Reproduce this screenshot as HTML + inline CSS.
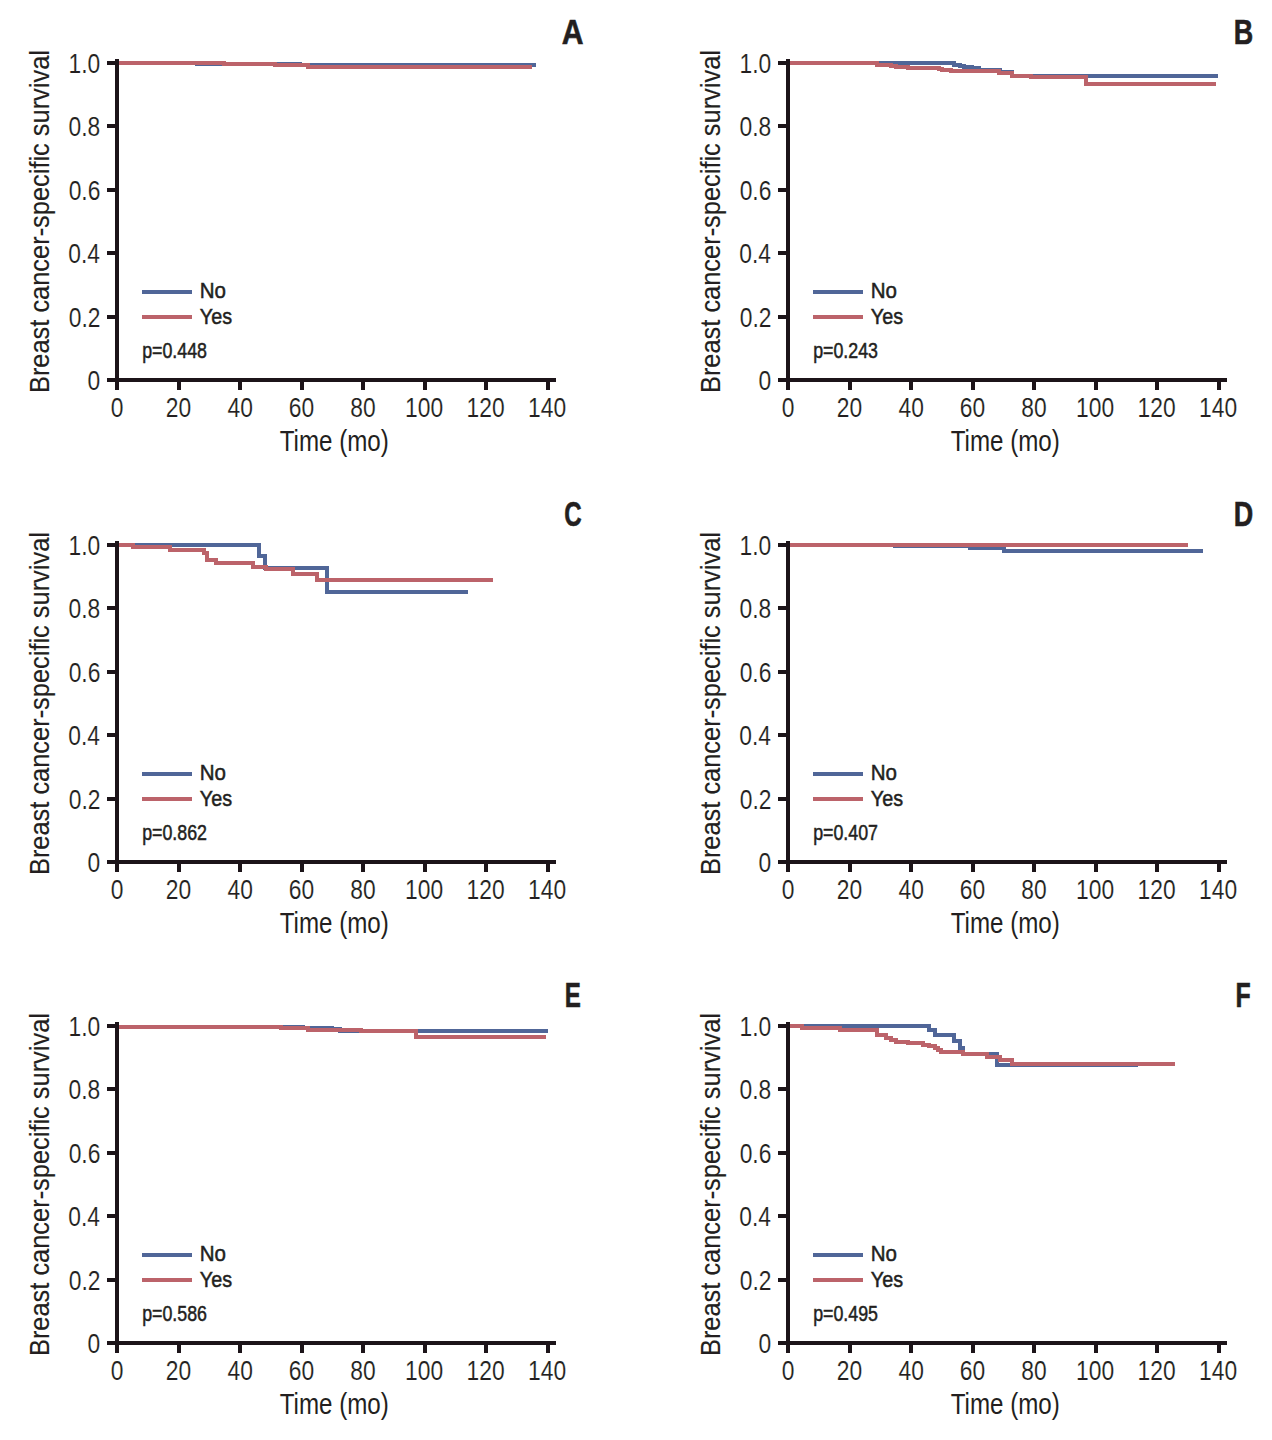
<!DOCTYPE html>
<html><head><meta charset="utf-8"><style>
html,body{margin:0;padding:0;background:#fff;}
body{width:1272px;height:1440px;overflow:hidden;}
svg{display:block;font-family:"Liberation Sans", sans-serif;}
</style></head><body>
<svg width="1272" height="1440" viewBox="0 0 1272 1440" shape-rendering="crispEdges">
<rect width="1272" height="1440" fill="#fff"/>
<g transform="translate(0,0)">
<path d="M117.00,63.00H197.00V64.00H300.00V65.30H535.80" fill="none" stroke="#506698" stroke-width="4" stroke-linejoin="miter"/>
<path d="M117.00,63.00H223.70V64.00H275.30V65.00H307.80V67.40H532.00" fill="none" stroke="#bc636a" stroke-width="4" stroke-linejoin="miter"/>
<rect x="115" y="59" width="4" height="331" fill="#1c1419"/>
<rect x="107" y="378" width="449" height="4" fill="#1c1419"/>
<rect x="107" y="61.00" width="8" height="4" fill="#1c1419"/>
<rect x="107" y="124.40" width="8" height="4" fill="#1c1419"/>
<rect x="107" y="187.80" width="8" height="4" fill="#1c1419"/>
<rect x="107" y="251.20" width="8" height="4" fill="#1c1419"/>
<rect x="107" y="314.60" width="8" height="4" fill="#1c1419"/>
<rect x="107" y="378.00" width="8" height="4" fill="#1c1419"/>
<rect x="115.00" y="382" width="4" height="8" fill="#1c1419"/>
<rect x="176.50" y="382" width="4" height="8" fill="#1c1419"/>
<rect x="238.00" y="382" width="4" height="8" fill="#1c1419"/>
<rect x="299.50" y="382" width="4" height="8" fill="#1c1419"/>
<rect x="361.00" y="382" width="4" height="8" fill="#1c1419"/>
<rect x="422.50" y="382" width="4" height="8" fill="#1c1419"/>
<rect x="484.00" y="382" width="4" height="8" fill="#1c1419"/>
<rect x="545.50" y="382" width="4" height="8" fill="#1c1419"/>
<text transform="translate(68.52,73.00) scale(0.8,1)" font-size="28.5" font-weight="normal" fill="#231f20" stroke="#fff" stroke-width="0.15">1.0</text>
<text transform="translate(68.52,136.40) scale(0.8,1)" font-size="28.5" font-weight="normal" fill="#231f20" stroke="#fff" stroke-width="0.15">0.8</text>
<text transform="translate(68.63,199.80) scale(0.8,1)" font-size="28.5" font-weight="normal" fill="#231f20" stroke="#fff" stroke-width="0.15">0.6</text>
<text transform="translate(68.29,263.20) scale(0.8,1)" font-size="28.5" font-weight="normal" fill="#231f20" stroke="#fff" stroke-width="0.15">0.4</text>
<text transform="translate(68.75,326.60) scale(0.8,1)" font-size="28.5" font-weight="normal" fill="#231f20" stroke="#fff" stroke-width="0.15">0.2</text>
<text transform="translate(87.56,390.00) scale(0.8,1)" font-size="28.5" font-weight="normal" fill="#231f20" stroke="#fff" stroke-width="0.15">0</text>
<text transform="translate(110.67,417.00) scale(0.8,1)" font-size="28.5" font-weight="normal" fill="#231f20" stroke="#fff" stroke-width="0.15">0</text>
<text transform="translate(165.73,417.00) scale(0.8,1)" font-size="28.5" font-weight="normal" fill="#231f20" stroke="#fff" stroke-width="0.15">20</text>
<text transform="translate(227.52,417.00) scale(0.8,1)" font-size="28.5" font-weight="normal" fill="#231f20" stroke="#fff" stroke-width="0.15">40</text>
<text transform="translate(288.73,417.00) scale(0.8,1)" font-size="28.5" font-weight="normal" fill="#231f20" stroke="#fff" stroke-width="0.15">60</text>
<text transform="translate(350.29,417.00) scale(0.8,1)" font-size="28.5" font-weight="normal" fill="#231f20" stroke="#fff" stroke-width="0.15">80</text>
<text transform="translate(405.12,417.00) scale(0.8,1)" font-size="28.5" font-weight="normal" fill="#231f20" stroke="#fff" stroke-width="0.15">100</text>
<text transform="translate(466.62,417.00) scale(0.8,1)" font-size="28.5" font-weight="normal" fill="#231f20" stroke="#fff" stroke-width="0.15">120</text>
<text transform="translate(528.12,417.00) scale(0.8,1)" font-size="28.5" font-weight="normal" fill="#231f20" stroke="#fff" stroke-width="0.15">140</text>
<text transform="translate(279.72,451.00) scale(0.833,1)" font-size="29" font-weight="normal" fill="#231f20" >Time (mo)</text>
<text transform="translate(48.80,393.03) rotate(-90) scale(0.9076,1)" font-size="28" fill="#231f20" stroke="#231f20" stroke-width="0.15">Breast cancer-specific survival</text>
<rect x="142" y="290" width="50" height="4" fill="#506698"/>
<rect x="142" y="315" width="50" height="4" fill="#bc636a"/>
<text transform="translate(199.76,297.80) scale(0.925,1)" font-size="22.2" font-weight="normal" fill="#231f20" stroke="#231f20" stroke-width="0.5">No</text>
<text transform="translate(199.81,323.70) scale(0.89,1)" font-size="22.2" font-weight="normal" fill="#231f20" stroke="#231f20" stroke-width="0.5">Yes</text>
<text transform="translate(142.14,358.00) scale(0.81,1)" font-size="22" font-weight="normal" fill="#231f20" stroke="#231f20" stroke-width="0.5">p=0.448</text>
<text transform="translate(561.75,43.80) scale(0.85,1)" font-size="35.5" font-weight="bold" fill="#231f20" stroke="#231f20" stroke-width="0.6">A</text>
</g>
<g transform="translate(671,0)">
<path d="M117.00,63.00H283.00V64.50H289.00V66.30H293.00V67.20H301.00V68.40H308.00V70.00H329.00V71.90H341.30V76.00H546.90" fill="none" stroke="#506698" stroke-width="4" stroke-linejoin="miter"/>
<path d="M117.00,63.00H206.00V64.80H220.00V66.00H225.00V66.80H237.00V67.90H268.00V69.10H271.00V69.90H280.00V70.80H328.00V72.70H341.30V75.90H360.00V76.70H415.00V84.00H544.80" fill="none" stroke="#bc636a" stroke-width="4" stroke-linejoin="miter"/>
<rect x="115" y="59" width="4" height="331" fill="#1c1419"/>
<rect x="107" y="378" width="449" height="4" fill="#1c1419"/>
<rect x="107" y="61.00" width="8" height="4" fill="#1c1419"/>
<rect x="107" y="124.40" width="8" height="4" fill="#1c1419"/>
<rect x="107" y="187.80" width="8" height="4" fill="#1c1419"/>
<rect x="107" y="251.20" width="8" height="4" fill="#1c1419"/>
<rect x="107" y="314.60" width="8" height="4" fill="#1c1419"/>
<rect x="107" y="378.00" width="8" height="4" fill="#1c1419"/>
<rect x="115.00" y="382" width="4" height="8" fill="#1c1419"/>
<rect x="176.50" y="382" width="4" height="8" fill="#1c1419"/>
<rect x="238.00" y="382" width="4" height="8" fill="#1c1419"/>
<rect x="299.50" y="382" width="4" height="8" fill="#1c1419"/>
<rect x="361.00" y="382" width="4" height="8" fill="#1c1419"/>
<rect x="422.50" y="382" width="4" height="8" fill="#1c1419"/>
<rect x="484.00" y="382" width="4" height="8" fill="#1c1419"/>
<rect x="545.50" y="382" width="4" height="8" fill="#1c1419"/>
<text transform="translate(68.52,73.00) scale(0.8,1)" font-size="28.5" font-weight="normal" fill="#231f20" stroke="#fff" stroke-width="0.15">1.0</text>
<text transform="translate(68.52,136.40) scale(0.8,1)" font-size="28.5" font-weight="normal" fill="#231f20" stroke="#fff" stroke-width="0.15">0.8</text>
<text transform="translate(68.63,199.80) scale(0.8,1)" font-size="28.5" font-weight="normal" fill="#231f20" stroke="#fff" stroke-width="0.15">0.6</text>
<text transform="translate(68.29,263.20) scale(0.8,1)" font-size="28.5" font-weight="normal" fill="#231f20" stroke="#fff" stroke-width="0.15">0.4</text>
<text transform="translate(68.75,326.60) scale(0.8,1)" font-size="28.5" font-weight="normal" fill="#231f20" stroke="#fff" stroke-width="0.15">0.2</text>
<text transform="translate(87.56,390.00) scale(0.8,1)" font-size="28.5" font-weight="normal" fill="#231f20" stroke="#fff" stroke-width="0.15">0</text>
<text transform="translate(110.67,417.00) scale(0.8,1)" font-size="28.5" font-weight="normal" fill="#231f20" stroke="#fff" stroke-width="0.15">0</text>
<text transform="translate(165.73,417.00) scale(0.8,1)" font-size="28.5" font-weight="normal" fill="#231f20" stroke="#fff" stroke-width="0.15">20</text>
<text transform="translate(227.52,417.00) scale(0.8,1)" font-size="28.5" font-weight="normal" fill="#231f20" stroke="#fff" stroke-width="0.15">40</text>
<text transform="translate(288.73,417.00) scale(0.8,1)" font-size="28.5" font-weight="normal" fill="#231f20" stroke="#fff" stroke-width="0.15">60</text>
<text transform="translate(350.29,417.00) scale(0.8,1)" font-size="28.5" font-weight="normal" fill="#231f20" stroke="#fff" stroke-width="0.15">80</text>
<text transform="translate(405.12,417.00) scale(0.8,1)" font-size="28.5" font-weight="normal" fill="#231f20" stroke="#fff" stroke-width="0.15">100</text>
<text transform="translate(466.62,417.00) scale(0.8,1)" font-size="28.5" font-weight="normal" fill="#231f20" stroke="#fff" stroke-width="0.15">120</text>
<text transform="translate(528.12,417.00) scale(0.8,1)" font-size="28.5" font-weight="normal" fill="#231f20" stroke="#fff" stroke-width="0.15">140</text>
<text transform="translate(279.72,451.00) scale(0.833,1)" font-size="29" font-weight="normal" fill="#231f20" >Time (mo)</text>
<text transform="translate(48.80,393.03) rotate(-90) scale(0.9076,1)" font-size="28" fill="#231f20" stroke="#231f20" stroke-width="0.15">Breast cancer-specific survival</text>
<rect x="142" y="290" width="50" height="4" fill="#506698"/>
<rect x="142" y="315" width="50" height="4" fill="#bc636a"/>
<text transform="translate(199.76,297.80) scale(0.925,1)" font-size="22.2" font-weight="normal" fill="#231f20" stroke="#231f20" stroke-width="0.5">No</text>
<text transform="translate(199.81,323.70) scale(0.89,1)" font-size="22.2" font-weight="normal" fill="#231f20" stroke="#231f20" stroke-width="0.5">Yes</text>
<text transform="translate(142.14,358.00) scale(0.81,1)" font-size="22" font-weight="normal" fill="#231f20" stroke="#231f20" stroke-width="0.5">p=0.243</text>
<text transform="translate(562.65,43.80) scale(0.76,1)" font-size="35.5" font-weight="bold" fill="#231f20" stroke="#231f20" stroke-width="0.6">B</text>
</g>
<g transform="translate(0,482)">
<path d="M117.00,63.00H258.60V74.30H264.90V86.40H326.50V110.00H467.90" fill="none" stroke="#506698" stroke-width="4" stroke-linejoin="miter"/>
<path d="M117.00,63.00H133.00V65.00H170.00V68.00H204.00V70.70H207.00V78.00H216.00V81.30H252.50V85.00H266.00V87.00H293.00V92.00H317.00V98.00H492.90" fill="none" stroke="#bc636a" stroke-width="4" stroke-linejoin="miter"/>
<rect x="115" y="59" width="4" height="331" fill="#1c1419"/>
<rect x="107" y="378" width="449" height="4" fill="#1c1419"/>
<rect x="107" y="61.00" width="8" height="4" fill="#1c1419"/>
<rect x="107" y="124.40" width="8" height="4" fill="#1c1419"/>
<rect x="107" y="187.80" width="8" height="4" fill="#1c1419"/>
<rect x="107" y="251.20" width="8" height="4" fill="#1c1419"/>
<rect x="107" y="314.60" width="8" height="4" fill="#1c1419"/>
<rect x="107" y="378.00" width="8" height="4" fill="#1c1419"/>
<rect x="115.00" y="382" width="4" height="8" fill="#1c1419"/>
<rect x="176.50" y="382" width="4" height="8" fill="#1c1419"/>
<rect x="238.00" y="382" width="4" height="8" fill="#1c1419"/>
<rect x="299.50" y="382" width="4" height="8" fill="#1c1419"/>
<rect x="361.00" y="382" width="4" height="8" fill="#1c1419"/>
<rect x="422.50" y="382" width="4" height="8" fill="#1c1419"/>
<rect x="484.00" y="382" width="4" height="8" fill="#1c1419"/>
<rect x="545.50" y="382" width="4" height="8" fill="#1c1419"/>
<text transform="translate(68.52,73.00) scale(0.8,1)" font-size="28.5" font-weight="normal" fill="#231f20" stroke="#fff" stroke-width="0.15">1.0</text>
<text transform="translate(68.52,136.40) scale(0.8,1)" font-size="28.5" font-weight="normal" fill="#231f20" stroke="#fff" stroke-width="0.15">0.8</text>
<text transform="translate(68.63,199.80) scale(0.8,1)" font-size="28.5" font-weight="normal" fill="#231f20" stroke="#fff" stroke-width="0.15">0.6</text>
<text transform="translate(68.29,263.20) scale(0.8,1)" font-size="28.5" font-weight="normal" fill="#231f20" stroke="#fff" stroke-width="0.15">0.4</text>
<text transform="translate(68.75,326.60) scale(0.8,1)" font-size="28.5" font-weight="normal" fill="#231f20" stroke="#fff" stroke-width="0.15">0.2</text>
<text transform="translate(87.56,390.00) scale(0.8,1)" font-size="28.5" font-weight="normal" fill="#231f20" stroke="#fff" stroke-width="0.15">0</text>
<text transform="translate(110.67,417.00) scale(0.8,1)" font-size="28.5" font-weight="normal" fill="#231f20" stroke="#fff" stroke-width="0.15">0</text>
<text transform="translate(165.73,417.00) scale(0.8,1)" font-size="28.5" font-weight="normal" fill="#231f20" stroke="#fff" stroke-width="0.15">20</text>
<text transform="translate(227.52,417.00) scale(0.8,1)" font-size="28.5" font-weight="normal" fill="#231f20" stroke="#fff" stroke-width="0.15">40</text>
<text transform="translate(288.73,417.00) scale(0.8,1)" font-size="28.5" font-weight="normal" fill="#231f20" stroke="#fff" stroke-width="0.15">60</text>
<text transform="translate(350.29,417.00) scale(0.8,1)" font-size="28.5" font-weight="normal" fill="#231f20" stroke="#fff" stroke-width="0.15">80</text>
<text transform="translate(405.12,417.00) scale(0.8,1)" font-size="28.5" font-weight="normal" fill="#231f20" stroke="#fff" stroke-width="0.15">100</text>
<text transform="translate(466.62,417.00) scale(0.8,1)" font-size="28.5" font-weight="normal" fill="#231f20" stroke="#fff" stroke-width="0.15">120</text>
<text transform="translate(528.12,417.00) scale(0.8,1)" font-size="28.5" font-weight="normal" fill="#231f20" stroke="#fff" stroke-width="0.15">140</text>
<text transform="translate(279.72,451.00) scale(0.833,1)" font-size="29" font-weight="normal" fill="#231f20" >Time (mo)</text>
<text transform="translate(48.80,393.03) rotate(-90) scale(0.9076,1)" font-size="28" fill="#231f20" stroke="#231f20" stroke-width="0.15">Breast cancer-specific survival</text>
<rect x="142" y="290" width="50" height="4" fill="#506698"/>
<rect x="142" y="315" width="50" height="4" fill="#bc636a"/>
<text transform="translate(199.76,297.80) scale(0.925,1)" font-size="22.2" font-weight="normal" fill="#231f20" stroke="#231f20" stroke-width="0.5">No</text>
<text transform="translate(199.81,323.70) scale(0.89,1)" font-size="22.2" font-weight="normal" fill="#231f20" stroke="#231f20" stroke-width="0.5">Yes</text>
<text transform="translate(142.14,358.00) scale(0.81,1)" font-size="22" font-weight="normal" fill="#231f20" stroke="#231f20" stroke-width="0.5">p=0.862</text>
<text transform="translate(564.23,43.50) scale(0.68,1)" font-size="35.5" font-weight="bold" fill="#231f20" stroke="#231f20" stroke-width="0.6">C</text>
</g>
<g transform="translate(671,482)">
<path d="M117.00,63.00H224.00V63.80H299.20V66.00H332.50V69.00H531.80" fill="none" stroke="#506698" stroke-width="4" stroke-linejoin="miter"/>
<path d="M117.00,63.00H516.90" fill="none" stroke="#bc636a" stroke-width="4" stroke-linejoin="miter"/>
<rect x="115" y="59" width="4" height="331" fill="#1c1419"/>
<rect x="107" y="378" width="449" height="4" fill="#1c1419"/>
<rect x="107" y="61.00" width="8" height="4" fill="#1c1419"/>
<rect x="107" y="124.40" width="8" height="4" fill="#1c1419"/>
<rect x="107" y="187.80" width="8" height="4" fill="#1c1419"/>
<rect x="107" y="251.20" width="8" height="4" fill="#1c1419"/>
<rect x="107" y="314.60" width="8" height="4" fill="#1c1419"/>
<rect x="107" y="378.00" width="8" height="4" fill="#1c1419"/>
<rect x="115.00" y="382" width="4" height="8" fill="#1c1419"/>
<rect x="176.50" y="382" width="4" height="8" fill="#1c1419"/>
<rect x="238.00" y="382" width="4" height="8" fill="#1c1419"/>
<rect x="299.50" y="382" width="4" height="8" fill="#1c1419"/>
<rect x="361.00" y="382" width="4" height="8" fill="#1c1419"/>
<rect x="422.50" y="382" width="4" height="8" fill="#1c1419"/>
<rect x="484.00" y="382" width="4" height="8" fill="#1c1419"/>
<rect x="545.50" y="382" width="4" height="8" fill="#1c1419"/>
<text transform="translate(68.52,73.00) scale(0.8,1)" font-size="28.5" font-weight="normal" fill="#231f20" stroke="#fff" stroke-width="0.15">1.0</text>
<text transform="translate(68.52,136.40) scale(0.8,1)" font-size="28.5" font-weight="normal" fill="#231f20" stroke="#fff" stroke-width="0.15">0.8</text>
<text transform="translate(68.63,199.80) scale(0.8,1)" font-size="28.5" font-weight="normal" fill="#231f20" stroke="#fff" stroke-width="0.15">0.6</text>
<text transform="translate(68.29,263.20) scale(0.8,1)" font-size="28.5" font-weight="normal" fill="#231f20" stroke="#fff" stroke-width="0.15">0.4</text>
<text transform="translate(68.75,326.60) scale(0.8,1)" font-size="28.5" font-weight="normal" fill="#231f20" stroke="#fff" stroke-width="0.15">0.2</text>
<text transform="translate(87.56,390.00) scale(0.8,1)" font-size="28.5" font-weight="normal" fill="#231f20" stroke="#fff" stroke-width="0.15">0</text>
<text transform="translate(110.67,417.00) scale(0.8,1)" font-size="28.5" font-weight="normal" fill="#231f20" stroke="#fff" stroke-width="0.15">0</text>
<text transform="translate(165.73,417.00) scale(0.8,1)" font-size="28.5" font-weight="normal" fill="#231f20" stroke="#fff" stroke-width="0.15">20</text>
<text transform="translate(227.52,417.00) scale(0.8,1)" font-size="28.5" font-weight="normal" fill="#231f20" stroke="#fff" stroke-width="0.15">40</text>
<text transform="translate(288.73,417.00) scale(0.8,1)" font-size="28.5" font-weight="normal" fill="#231f20" stroke="#fff" stroke-width="0.15">60</text>
<text transform="translate(350.29,417.00) scale(0.8,1)" font-size="28.5" font-weight="normal" fill="#231f20" stroke="#fff" stroke-width="0.15">80</text>
<text transform="translate(405.12,417.00) scale(0.8,1)" font-size="28.5" font-weight="normal" fill="#231f20" stroke="#fff" stroke-width="0.15">100</text>
<text transform="translate(466.62,417.00) scale(0.8,1)" font-size="28.5" font-weight="normal" fill="#231f20" stroke="#fff" stroke-width="0.15">120</text>
<text transform="translate(528.12,417.00) scale(0.8,1)" font-size="28.5" font-weight="normal" fill="#231f20" stroke="#fff" stroke-width="0.15">140</text>
<text transform="translate(279.72,451.00) scale(0.833,1)" font-size="29" font-weight="normal" fill="#231f20" >Time (mo)</text>
<text transform="translate(48.80,393.03) rotate(-90) scale(0.9076,1)" font-size="28" fill="#231f20" stroke="#231f20" stroke-width="0.15">Breast cancer-specific survival</text>
<rect x="142" y="290" width="50" height="4" fill="#506698"/>
<rect x="142" y="315" width="50" height="4" fill="#bc636a"/>
<text transform="translate(199.76,297.80) scale(0.925,1)" font-size="22.2" font-weight="normal" fill="#231f20" stroke="#231f20" stroke-width="0.5">No</text>
<text transform="translate(199.81,323.70) scale(0.89,1)" font-size="22.2" font-weight="normal" fill="#231f20" stroke="#231f20" stroke-width="0.5">Yes</text>
<text transform="translate(142.14,358.00) scale(0.81,1)" font-size="22" font-weight="normal" fill="#231f20" stroke="#231f20" stroke-width="0.5">p=0.407</text>
<text transform="translate(562.65,43.80) scale(0.76,1)" font-size="35.5" font-weight="bold" fill="#231f20" stroke="#231f20" stroke-width="0.6">D</text>
</g>
<g transform="translate(0,963)">
<path d="M117.00,63.50H282.00V64.00H302.70V65.10H331.70V66.10H340.00V67.90H547.90" fill="none" stroke="#506698" stroke-width="4" stroke-linejoin="miter"/>
<path d="M117.00,63.80H281.00V64.85H308.00V67.00H360.50V68.00H416.00V74.00H545.80" fill="none" stroke="#bc636a" stroke-width="4" stroke-linejoin="miter"/>
<rect x="115" y="59" width="4" height="331" fill="#1c1419"/>
<rect x="107" y="378" width="449" height="4" fill="#1c1419"/>
<rect x="107" y="61.00" width="8" height="4" fill="#1c1419"/>
<rect x="107" y="124.40" width="8" height="4" fill="#1c1419"/>
<rect x="107" y="187.80" width="8" height="4" fill="#1c1419"/>
<rect x="107" y="251.20" width="8" height="4" fill="#1c1419"/>
<rect x="107" y="314.60" width="8" height="4" fill="#1c1419"/>
<rect x="107" y="378.00" width="8" height="4" fill="#1c1419"/>
<rect x="115.00" y="382" width="4" height="8" fill="#1c1419"/>
<rect x="176.50" y="382" width="4" height="8" fill="#1c1419"/>
<rect x="238.00" y="382" width="4" height="8" fill="#1c1419"/>
<rect x="299.50" y="382" width="4" height="8" fill="#1c1419"/>
<rect x="361.00" y="382" width="4" height="8" fill="#1c1419"/>
<rect x="422.50" y="382" width="4" height="8" fill="#1c1419"/>
<rect x="484.00" y="382" width="4" height="8" fill="#1c1419"/>
<rect x="545.50" y="382" width="4" height="8" fill="#1c1419"/>
<text transform="translate(68.52,73.00) scale(0.8,1)" font-size="28.5" font-weight="normal" fill="#231f20" stroke="#fff" stroke-width="0.15">1.0</text>
<text transform="translate(68.52,136.40) scale(0.8,1)" font-size="28.5" font-weight="normal" fill="#231f20" stroke="#fff" stroke-width="0.15">0.8</text>
<text transform="translate(68.63,199.80) scale(0.8,1)" font-size="28.5" font-weight="normal" fill="#231f20" stroke="#fff" stroke-width="0.15">0.6</text>
<text transform="translate(68.29,263.20) scale(0.8,1)" font-size="28.5" font-weight="normal" fill="#231f20" stroke="#fff" stroke-width="0.15">0.4</text>
<text transform="translate(68.75,326.60) scale(0.8,1)" font-size="28.5" font-weight="normal" fill="#231f20" stroke="#fff" stroke-width="0.15">0.2</text>
<text transform="translate(87.56,390.00) scale(0.8,1)" font-size="28.5" font-weight="normal" fill="#231f20" stroke="#fff" stroke-width="0.15">0</text>
<text transform="translate(110.67,417.00) scale(0.8,1)" font-size="28.5" font-weight="normal" fill="#231f20" stroke="#fff" stroke-width="0.15">0</text>
<text transform="translate(165.73,417.00) scale(0.8,1)" font-size="28.5" font-weight="normal" fill="#231f20" stroke="#fff" stroke-width="0.15">20</text>
<text transform="translate(227.52,417.00) scale(0.8,1)" font-size="28.5" font-weight="normal" fill="#231f20" stroke="#fff" stroke-width="0.15">40</text>
<text transform="translate(288.73,417.00) scale(0.8,1)" font-size="28.5" font-weight="normal" fill="#231f20" stroke="#fff" stroke-width="0.15">60</text>
<text transform="translate(350.29,417.00) scale(0.8,1)" font-size="28.5" font-weight="normal" fill="#231f20" stroke="#fff" stroke-width="0.15">80</text>
<text transform="translate(405.12,417.00) scale(0.8,1)" font-size="28.5" font-weight="normal" fill="#231f20" stroke="#fff" stroke-width="0.15">100</text>
<text transform="translate(466.62,417.00) scale(0.8,1)" font-size="28.5" font-weight="normal" fill="#231f20" stroke="#fff" stroke-width="0.15">120</text>
<text transform="translate(528.12,417.00) scale(0.8,1)" font-size="28.5" font-weight="normal" fill="#231f20" stroke="#fff" stroke-width="0.15">140</text>
<text transform="translate(279.72,451.00) scale(0.833,1)" font-size="29" font-weight="normal" fill="#231f20" >Time (mo)</text>
<text transform="translate(48.80,393.03) rotate(-90) scale(0.9076,1)" font-size="28" fill="#231f20" stroke="#231f20" stroke-width="0.15">Breast cancer-specific survival</text>
<rect x="142" y="290" width="50" height="4" fill="#506698"/>
<rect x="142" y="315" width="50" height="4" fill="#bc636a"/>
<text transform="translate(199.76,297.80) scale(0.925,1)" font-size="22.2" font-weight="normal" fill="#231f20" stroke="#231f20" stroke-width="0.5">No</text>
<text transform="translate(199.81,323.70) scale(0.89,1)" font-size="22.2" font-weight="normal" fill="#231f20" stroke="#231f20" stroke-width="0.5">Yes</text>
<text transform="translate(142.14,358.00) scale(0.81,1)" font-size="22" font-weight="normal" fill="#231f20" stroke="#231f20" stroke-width="0.5">p=0.586</text>
<text transform="translate(564.83,43.80) scale(0.68,1)" font-size="35.5" font-weight="bold" fill="#231f20" stroke="#231f20" stroke-width="0.6">E</text>
</g>
<g transform="translate(671,963)">
<path d="M117.00,63.00H258.00V66.50H264.00V72.00H282.50V78.00H289.00V85.00H292.00V91.20H326.00V101.70H467.00" fill="none" stroke="#506698" stroke-width="4" stroke-linejoin="miter"/>
<path d="M117.00,63.00H131.00V65.00H169.00V67.00H206.00V72.00H214.50V74.80H219.80V77.20H224.70V79.20H236.70V80.10H251.60V82.10H257.50V83.20H263.80V85.20H266.70V87.40H269.90V89.10H292.00V90.70H316.00V94.00H329.00V97.10H341.00V101.00H503.90" fill="none" stroke="#bc636a" stroke-width="4" stroke-linejoin="miter"/>
<rect x="115" y="59" width="4" height="331" fill="#1c1419"/>
<rect x="107" y="378" width="449" height="4" fill="#1c1419"/>
<rect x="107" y="61.00" width="8" height="4" fill="#1c1419"/>
<rect x="107" y="124.40" width="8" height="4" fill="#1c1419"/>
<rect x="107" y="187.80" width="8" height="4" fill="#1c1419"/>
<rect x="107" y="251.20" width="8" height="4" fill="#1c1419"/>
<rect x="107" y="314.60" width="8" height="4" fill="#1c1419"/>
<rect x="107" y="378.00" width="8" height="4" fill="#1c1419"/>
<rect x="115.00" y="382" width="4" height="8" fill="#1c1419"/>
<rect x="176.50" y="382" width="4" height="8" fill="#1c1419"/>
<rect x="238.00" y="382" width="4" height="8" fill="#1c1419"/>
<rect x="299.50" y="382" width="4" height="8" fill="#1c1419"/>
<rect x="361.00" y="382" width="4" height="8" fill="#1c1419"/>
<rect x="422.50" y="382" width="4" height="8" fill="#1c1419"/>
<rect x="484.00" y="382" width="4" height="8" fill="#1c1419"/>
<rect x="545.50" y="382" width="4" height="8" fill="#1c1419"/>
<text transform="translate(68.52,73.00) scale(0.8,1)" font-size="28.5" font-weight="normal" fill="#231f20" stroke="#fff" stroke-width="0.15">1.0</text>
<text transform="translate(68.52,136.40) scale(0.8,1)" font-size="28.5" font-weight="normal" fill="#231f20" stroke="#fff" stroke-width="0.15">0.8</text>
<text transform="translate(68.63,199.80) scale(0.8,1)" font-size="28.5" font-weight="normal" fill="#231f20" stroke="#fff" stroke-width="0.15">0.6</text>
<text transform="translate(68.29,263.20) scale(0.8,1)" font-size="28.5" font-weight="normal" fill="#231f20" stroke="#fff" stroke-width="0.15">0.4</text>
<text transform="translate(68.75,326.60) scale(0.8,1)" font-size="28.5" font-weight="normal" fill="#231f20" stroke="#fff" stroke-width="0.15">0.2</text>
<text transform="translate(87.56,390.00) scale(0.8,1)" font-size="28.5" font-weight="normal" fill="#231f20" stroke="#fff" stroke-width="0.15">0</text>
<text transform="translate(110.67,417.00) scale(0.8,1)" font-size="28.5" font-weight="normal" fill="#231f20" stroke="#fff" stroke-width="0.15">0</text>
<text transform="translate(165.73,417.00) scale(0.8,1)" font-size="28.5" font-weight="normal" fill="#231f20" stroke="#fff" stroke-width="0.15">20</text>
<text transform="translate(227.52,417.00) scale(0.8,1)" font-size="28.5" font-weight="normal" fill="#231f20" stroke="#fff" stroke-width="0.15">40</text>
<text transform="translate(288.73,417.00) scale(0.8,1)" font-size="28.5" font-weight="normal" fill="#231f20" stroke="#fff" stroke-width="0.15">60</text>
<text transform="translate(350.29,417.00) scale(0.8,1)" font-size="28.5" font-weight="normal" fill="#231f20" stroke="#fff" stroke-width="0.15">80</text>
<text transform="translate(405.12,417.00) scale(0.8,1)" font-size="28.5" font-weight="normal" fill="#231f20" stroke="#fff" stroke-width="0.15">100</text>
<text transform="translate(466.62,417.00) scale(0.8,1)" font-size="28.5" font-weight="normal" fill="#231f20" stroke="#fff" stroke-width="0.15">120</text>
<text transform="translate(528.12,417.00) scale(0.8,1)" font-size="28.5" font-weight="normal" fill="#231f20" stroke="#fff" stroke-width="0.15">140</text>
<text transform="translate(279.72,451.00) scale(0.833,1)" font-size="29" font-weight="normal" fill="#231f20" >Time (mo)</text>
<text transform="translate(48.80,393.03) rotate(-90) scale(0.9076,1)" font-size="28" fill="#231f20" stroke="#231f20" stroke-width="0.15">Breast cancer-specific survival</text>
<rect x="142" y="290" width="50" height="4" fill="#506698"/>
<rect x="142" y="315" width="50" height="4" fill="#bc636a"/>
<text transform="translate(199.76,297.80) scale(0.925,1)" font-size="22.2" font-weight="normal" fill="#231f20" stroke="#231f20" stroke-width="0.5">No</text>
<text transform="translate(199.81,323.70) scale(0.89,1)" font-size="22.2" font-weight="normal" fill="#231f20" stroke="#231f20" stroke-width="0.5">Yes</text>
<text transform="translate(142.14,358.00) scale(0.81,1)" font-size="22" font-weight="normal" fill="#231f20" stroke="#231f20" stroke-width="0.5">p=0.495</text>
<text transform="translate(564.58,43.80) scale(0.7,1)" font-size="35.5" font-weight="bold" fill="#231f20" stroke="#231f20" stroke-width="0.6">F</text>
</g>
</svg>
</body></html>
